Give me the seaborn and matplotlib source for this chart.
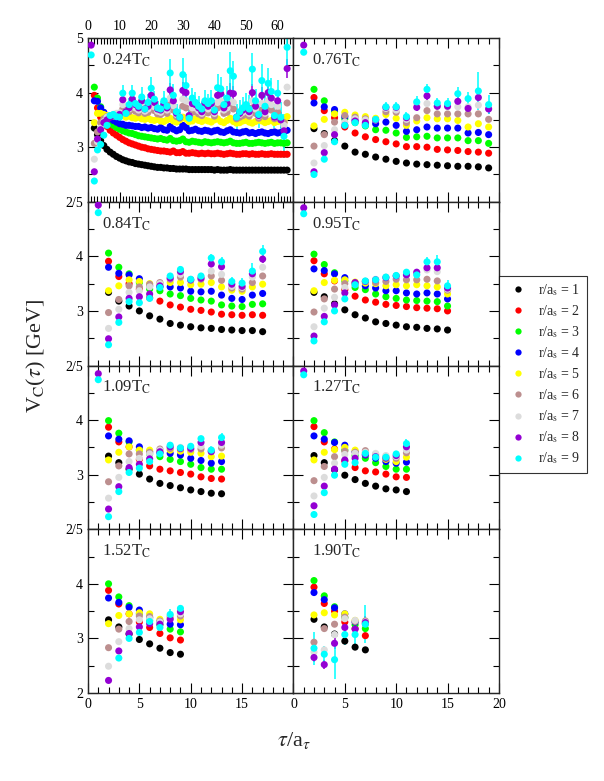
import matplotlib.pyplot as plt
import seaborn as sns
import pandas as pd
import numpy as np
from matplotlib.ticker import MultipleLocator
from matplotlib.lines import Line2D

nan = np.nan

# r/a_s = 1..9 , cores iguais ao original
r_values = [1, 2, 3, 4, 5, 6, 7, 8, 9]
colors = ['#000000', '#ff0000', '#00ff00', '#0000ff', '#ffff00',
          '#bc8f8f', '#dcdcdc', '#9400d3', '#00ffff']
r_names = [f'r{r}' for r in r_values]

# ============================================
# DADOS: V_C(tau) por temperatura, tau = 1..N
# ============================================
v024 = [
    [nan, 3.35, 3.23, 3.12, 3.03, 2.96, 2.91, 2.87, 2.83, 2.80,
     2.77, 2.75, 2.73, 2.72, 2.70, 2.69, 2.68, 2.67, 2.66, 2.65,
     2.64, 2.63, 2.63, 2.62, 2.62, 2.61, 2.61, 2.60, 2.60, 2.60,
     2.60, 2.59, 2.59, 2.59, 2.59, 2.59, 2.59, 2.59, 2.59, 2.58,
     2.59, 2.58, 2.58, 2.58, 2.59, 2.58, 2.58, 2.58, 2.58, 2.58,
     2.58, 2.58, 2.58, 2.58, 2.58, 2.58, 2.58, 2.58, 2.58, 2.58,
     2.58, 2.58, 2.58],
    [nan, 3.95, 3.72, 3.55, 3.45, 3.38, 3.31, 3.26, 3.22, 3.18,
     3.14, 3.11, 3.08, 3.06, 3.04, 3.02, 3.00, 2.99, 2.97, 2.96,
     2.95, 2.94, 2.93, 2.93, 2.92, 2.91, 2.93, 2.90, 2.90, 2.92,
     2.89, 2.89, 2.90, 2.89, 2.88, 2.89, 2.88, 2.89, 2.88, 2.88,
     2.89, 2.88, 2.87, 2.88, 2.89, 2.88, 2.87, 2.87, 2.88, 2.88,
     2.87, 2.88, 2.87, 2.87, 2.88, 2.87, 2.87, 2.88, 2.87, 2.87,
     2.87, 2.87, 2.87],
    [nan, 4.10, 3.90, 3.74, 3.62, 3.52, 3.45, 3.40, 3.36, 3.33,
     3.30, 3.28, 3.26, 3.25, 3.23, 3.21, 3.20, 3.19, 3.18, 3.17,
     3.16, 3.15, 3.16, 3.14, 3.13, 3.16, 3.12, 3.11, 3.12, 3.15,
     3.10, 3.09, 3.11, 3.10, 3.09, 3.08, 3.10, 3.09, 3.08, 3.09,
     3.10, 3.09, 3.08, 3.09, 3.11, 3.08, 3.07, 3.07, 3.08, 3.09,
     3.07, 3.07, 3.08, 3.09, 3.08, 3.07, 3.08, 3.09, 3.07, 3.08,
     3.08, 3.07, 3.08],
    [nan, 3.85, 3.84, 3.72, 3.64, 3.58, 3.53, 3.49, 3.46, 3.43,
     3.42, 3.40, 3.40, 3.39, 3.38, 3.38, 3.36, 3.37, 3.35, 3.36,
     3.34, 3.33, 3.36, 3.32, 3.31, 3.38, 3.33, 3.30, 3.32, 3.40,
     3.36, 3.30, 3.31, 3.33, 3.30, 3.29, 3.31, 3.30, 3.28, 3.30,
     3.31, 3.28, 3.27, 3.30, 3.32, 3.28, 3.27, 3.26, 3.28, 3.29,
     3.26, 3.27, 3.25, 3.27, 3.28, 3.26, 3.25, 3.27, 3.28, 3.26,
     3.27, 3.28, 3.31],
    [nan, 3.45, 3.62, 3.62, 3.60, 3.58, 3.58, 3.57, 3.57, 3.56,
     3.58, 3.55, 3.57, 3.54, 3.53, 3.55, 3.52, 3.51, 3.53, 3.50,
     3.49, 3.51, 3.48, 3.47, 3.50, 3.53, 3.48, 3.46, 3.50, 3.55,
     3.52, 3.47, 3.48, 3.52, 3.49, 3.47, 3.50, 3.48, 3.46, 3.50,
     3.52, 3.47, 3.45, 3.49, 3.53, 3.47, 3.44, 3.45, 3.48, 3.49,
     3.46, 3.44, 3.47, 3.50, 3.48, 3.45, 3.47, 3.49, 3.45, 3.47,
     3.48, 3.46, 3.56],
    [nan, 3.07, 3.28, 3.45, 3.52, 3.56, 3.58, 3.58, 3.60, 3.60,
     3.70, 3.62, 3.65, 3.70, 3.66, 3.63, 3.68, 3.62, 3.64, 3.72,
     3.67, 3.61, 3.60, 3.65, 3.62, 3.78, 3.68, 3.56, 3.53, 3.75,
     3.72, 3.54, 3.64, 3.65, 3.61, 3.58, 3.64, 3.63, 3.65, 3.57,
     3.72, 3.74, 3.62, 3.64, 3.74, 3.70, 3.52, 3.55, 3.58, 3.61,
     3.57, 3.72, 3.62, 3.53, 3.68, 3.56, 3.72, 3.68, 3.52, 3.64,
     3.50, 3.45, 3.81],
    [nan, 2.78, 3.10, 3.35, 3.47, 3.55, 3.58, 3.60, 3.62, 3.63,
     3.78, 3.65, 3.70, 3.78, 3.72, 3.68, 3.75, 3.66, 3.70, 3.82,
     3.74, 3.66, 3.64, 3.72, 3.68, 3.90, 3.76, 3.60, 3.56, 3.88,
     3.85, 3.58, 3.72, 3.72, 3.67, 3.62, 3.72, 3.70, 3.73, 3.62,
     3.82, 3.85, 3.68, 3.72, 3.85, 3.82, 3.55, 3.60, 3.64, 3.68,
     3.62, 3.85, 3.70, 3.57, 3.80, 3.62, 3.85, 3.78, 3.55, 3.75,
     3.50, 3.40, 4.10],
    [4.87, 2.55, 3.15, 3.32, 3.45, 3.50, 3.55, 3.58, 3.56, 3.60,
     3.87, 3.65, 3.72, 3.88, 3.78, 3.72, 3.85, 3.70, 3.75, 3.95,
     3.82, 3.70, 3.68, 3.78, 3.72, 4.05, 3.85, 3.62, 3.55, 4.04,
     4.00, 3.58, 3.80, 3.78, 3.72, 3.65, 3.80, 3.75, 3.80, 3.65,
     3.95, 3.98, 3.72, 3.80, 3.99, 3.98, 3.55, 3.62, 3.68, 3.72,
     3.65, 4.00, 3.75, 3.58, 3.95, 3.65, 4.00, 3.90, 3.55, 3.85,
     3.50, 3.30, 4.44],
    [4.69, 2.38, 2.95, 3.05, 3.22, 3.40, 3.58, 3.60, 3.56, 3.55,
     3.99, 3.62, 3.78, 3.99, 3.80, 3.75, 3.92, 3.70, 3.82, 4.08,
     3.88, 3.72, 3.70, 3.85, 3.75, 4.36, 3.95, 3.65, 3.55, 4.33,
     4.13, 3.53, 3.90, 3.82, 3.75, 3.70, 3.85, 3.80, 3.85, 3.68,
     4.09, 4.07, 3.78, 3.90, 4.40, 4.30, 3.55, 3.65, 3.72, 3.78,
     3.70, 4.43, 3.85, 3.60, 4.22, 3.75, 4.17, 4.02, 3.58, 3.99,
     3.55, 3.20, 4.83],
]
# barras de erro para r/a_s = 8 e 9
e024 = [
    [0.01, 0.01, 0.02, 0.02, 0.03, 0.03, 0.04, 0.04, 0.05, 0.05,
     0.08, 0.06, 0.07, 0.08, 0.07, 0.07, 0.10, 0.07, 0.08, 0.10,
     0.08, 0.07, 0.08, 0.10, 0.08, 0.12, 0.10, 0.08, 0.10, 0.15,
     0.12, 0.10, 0.10, 0.10, 0.10, 0.08, 0.10, 0.10, 0.10, 0.10,
     0.12, 0.12, 0.10, 0.12, 0.18, 0.15, 0.12, 0.12, 0.10, 0.12,
     0.12, 0.15, 0.12, 0.12, 0.15, 0.12, 0.15, 0.12, 0.12, 0.12,
     0.15, 0.20, 0.18],
    [0.02, 0.02, 0.03, 0.03, 0.04, 0.05, 0.05, 0.06, 0.07, 0.08,
     0.15, 0.10, 0.12, 0.15, 0.12, 0.12, 0.18, 0.12, 0.15, 0.20,
     0.15, 0.12, 0.15, 0.18, 0.15, 0.25, 0.20, 0.15, 0.18, 0.30,
     0.22, 0.20, 0.18, 0.20, 0.18, 0.15, 0.20, 0.18, 0.20, 0.18,
     0.25, 0.22, 0.20, 0.22, 0.35, 0.28, 0.25, 0.22, 0.20, 0.22,
     0.25, 0.30, 0.22, 0.25, 0.30, 0.25, 0.28, 0.25, 0.22, 0.25,
     0.28, 0.40, 0.35],
]

v076 = [
    [nan, 3.34, 3.25, 3.12, 3.02, 2.91, 2.87, 2.82, 2.78, 2.74, 2.71, 2.69, 2.68, 2.67, 2.66, 2.65, 2.65, 2.64, 2.62],
    [nan, 3.91, 3.67, 3.54, 3.37, 3.26, 3.19, 3.14, 3.10, 3.06, 3.01, 3.01, 3.00, 2.96, 2.95, 2.94, 2.92, 2.91, 2.89],
    [nan, 4.06, 3.85, 3.66, 3.52, 3.45, 3.39, 3.32, 3.31, 3.26, 3.18, 3.19, 3.20, 3.17, 3.17, 3.17, 3.12, 3.12, 3.07],
    [nan, 3.81, 3.74, 3.69, 3.56, 3.50, 3.42, 3.43, 3.46, 3.40, 3.29, 3.32, 3.37, 3.35, 3.35, 3.35, 3.26, 3.27, 3.23],
    [nan, 3.39, 3.51, 3.61, 3.64, 3.59, 3.56, 3.53, 3.60, 3.53, 3.40, 3.48, 3.54, 3.52, 3.52, 3.49, 3.37, 3.43, 3.37],
    [nan, 3.02, 3.23, 3.46, 3.58, 3.55, 3.52, 3.50, 3.65, 3.64, 3.45, 3.54, 3.67, 3.61, 3.61, 3.61, 3.61, 3.61, 3.51],
    [nan, 2.71, 3.03, 3.32, 3.46, 3.52, 3.50, 3.50, 3.71, 3.68, 3.51, 3.80, 3.80, 3.75, 3.74, 3.74, 3.74, 3.77, 3.71],
    [4.87, 2.55, 2.90, 3.23, 3.40, 3.48, 3.45, 3.50, 3.73, 3.73, 3.54, 3.73, 3.94, 3.75, 3.75, 3.84, 3.71, 3.91, 3.70],
    [4.74, 2.50, 2.78, 3.10, 3.40, 3.45, 3.40, 3.51, 3.74, 3.74, 3.56, 3.83, 4.06, 3.81, 3.80, 3.98, 3.89, 4.03, 3.78],
]
e076 = [
    [0.01, 0.01, 0.01, 0.01, 0.02, 0.02, 0.02, 0.03, 0.05, 0.05, 0.05, 0.06, 0.07, 0.07, 0.07, 0.08, 0.08, 0.12, 0.10],
    [0.01, 0.01, 0.01, 0.02, 0.02, 0.03, 0.03, 0.05, 0.08, 0.08, 0.08, 0.10, 0.10, 0.10, 0.10, 0.12, 0.12, 0.35, 0.18],
]

v084 = [
    [nan, 3.34, 3.18, 3.09, 3.00, 2.91, 2.85, 2.77, 2.74, 2.71, 2.69, 2.68, 2.66, 2.65, 2.64, 2.64, 2.62],
    [nan, 3.91, 3.63, 3.50, 3.40, 3.24, 3.18, 3.11, 3.07, 3.03, 3.01, 2.98, 2.94, 2.93, 2.92, 2.93, 2.92],
    [nan, 4.06, 3.80, 3.68, 3.52, 3.40, 3.37, 3.31, 3.28, 3.23, 3.20, 3.18, 3.11, 3.09, 3.08, 3.12, 3.13],
    [nan, 3.80, 3.69, 3.66, 3.59, 3.46, 3.44, 3.44, 3.42, 3.36, 3.35, 3.36, 3.29, 3.23, 3.21, 3.29, 3.32],
    [nan, 3.37, 3.46, 3.57, 3.54, 3.50, 3.50, 3.52, 3.52, 3.48, 3.49, 3.52, 3.44, 3.38, 3.36, 3.44, 3.49],
    [nan, 2.97, 3.21, 3.46, 3.44, 3.49, 3.52, 3.58, 3.62, 3.56, 3.58, 3.64, 3.56, 3.42, 3.40, 3.52, 3.64],
    [nan, 2.68, 3.03, 3.34, 3.37, 3.44, 3.50, 3.60, 3.67, 3.58, 3.62, 3.73, 3.67, 3.45, 3.43, 3.62, 3.80],
    [4.94, 2.49, 2.89, 3.23, 3.26, 3.31, 3.46, 3.60, 3.72, 3.57, 3.60, 3.86, 3.81, 3.49, 3.45, 3.68, 3.95],
    [4.80, 2.38, 2.79, 3.17, 3.15, 3.23, 3.43, 3.64, 3.76, 3.58, 3.64, 3.97, 3.90, 3.54, 3.51, 3.73, 4.09],
]
e084 = [
    [0.01, 0.01, 0.01, 0.01, 0.01, 0.02, 0.02, 0.03, 0.04, 0.03, 0.03, 0.05, 0.06, 0.05, 0.06, 0.08, 0.08],
    [0.01, 0.01, 0.01, 0.01, 0.02, 0.02, 0.03, 0.05, 0.07, 0.05, 0.05, 0.07, 0.08, 0.08, 0.10, 0.15, 0.12],
]

v095 = [
    [nan, 3.34, 3.26, 3.13, 3.02, 2.93, 2.87, 2.80, 2.77, 2.74, 2.71, 2.70, 2.68, 2.67, 2.65],
    [nan, 3.92, 3.68, 3.55, 3.39, 3.27, 3.20, 3.16, 3.12, 3.10, 3.08, 3.06, 3.05, 3.04, 3.00],
    [nan, 4.04, 3.85, 3.70, 3.55, 3.43, 3.39, 3.31, 3.26, 3.23, 3.20, 3.19, 3.18, 3.17, 3.09],
    [nan, 3.77, 3.74, 3.68, 3.61, 3.51, 3.46, 3.42, 3.37, 3.37, 3.33, 3.31, 3.33, 3.31, 3.22],
    [nan, 3.37, 3.52, 3.56, 3.57, 3.53, 3.51, 3.50, 3.46, 3.48, 3.46, 3.48, 3.46, 3.44, 3.31],
    [nan, 2.98, 3.22, 3.40, 3.50, 3.48, 3.54, 3.52, 3.54, 3.58, 3.57, 3.57, 3.58, 3.55, 3.38],
    [nan, 2.71, 3.05, 3.25, 3.43, 3.50, 3.54, 3.58, 3.62, 3.64, 3.66, 3.68, 3.75, 3.72, 3.40],
    [4.89, 2.54, 2.90, 3.11, 3.33, 3.52, 3.54, 3.57, 3.61, 3.64, 3.66, 3.71, 3.79, 3.79, 3.42],
    [4.78, 2.45, 2.80, 3.00, 3.22, 3.48, 3.55, 3.57, 3.62, 3.65, 3.71, 3.66, 3.90, 3.90, 3.46],
]
e095 = [
    [0.01, 0.01, 0.01, 0.01, 0.01, 0.02, 0.02, 0.02, 0.03, 0.03, 0.04, 0.04, 0.06, 0.08, 0.07],
    [0.01, 0.01, 0.01, 0.01, 0.02, 0.02, 0.03, 0.03, 0.04, 0.04, 0.05, 0.05, 0.08, 0.12, 0.10],
]

v109 = [
    [nan, 3.34, 3.22, 3.10, 3.01, 2.92, 2.84, 2.80, 2.76, 2.72, 2.69, 2.66, 2.65],
    [nan, 3.87, 3.60, 3.51, 3.28, 3.16, 3.10, 3.07, 3.04, 3.01, 2.96, 2.93, 2.92],
    [nan, 3.99, 3.76, 3.60, 3.45, 3.38, 3.33, 3.28, 3.24, 3.19, 3.13, 3.10, 3.10],
    [nan, 3.71, 3.65, 3.62, 3.51, 3.42, 3.40, 3.39, 3.36, 3.30, 3.26, 3.21, 3.24],
    [nan, 3.27, 3.41, 3.51, 3.45, 3.45, 3.44, 3.45, 3.43, 3.41, 3.39, 3.33, 3.34],
    [nan, 2.87, 3.16, 3.38, 3.38, 3.41, 3.47, 3.48, 3.47, 3.46, 3.47, 3.43, 3.49],
    [nan, 2.57, 2.95, 3.24, 3.30, 3.38, 3.45, 3.51, 3.50, 3.48, 3.52, 3.45, 3.54],
    [4.85, 2.37, 2.78, 3.13, 3.19, 3.29, 3.42, 3.51, 3.48, 3.48, 3.59, 3.42, 3.59],
    [4.74, 2.23, 2.69, 3.04, 3.12, 3.24, 3.38, 3.54, 3.49, 3.52, 3.66, 3.45, 3.68],
]
e109 = [
    [0.01, 0.01, 0.01, 0.01, 0.01, 0.02, 0.02, 0.02, 0.02, 0.03, 0.04, 0.05, 0.06],
    [0.01, 0.01, 0.01, 0.01, 0.02, 0.02, 0.02, 0.03, 0.03, 0.04, 0.05, 0.07, 0.08],
]

v127 = [
    [nan, 3.35, 3.22, 3.09, 2.99, 2.91, 2.84, 2.79, 2.74, 2.72, 2.69],
    [nan, 3.88, 3.60, 3.47, 3.25, 3.13, 3.07, 3.05, 3.01, 2.96, 2.95],
    [nan, 3.99, 3.77, 3.60, 3.45, 3.35, 3.30, 3.22, 3.15, 3.10, 3.10],
    [nan, 3.71, 3.65, 3.59, 3.54, 3.42, 3.36, 3.30, 3.24, 3.21, 3.23],
    [nan, 3.27, 3.41, 3.46, 3.50, 3.45, 3.40, 3.35, 3.28, 3.24, 3.32],
    [nan, 2.89, 3.15, 3.33, 3.43, 3.41, 3.44, 3.37, 3.33, 3.30, 3.40],
    [nan, 2.61, 2.95, 3.21, 3.37, 3.39, 3.41, 3.39, 3.35, 3.33, 3.45],
    [4.90, 2.43, 2.79, 3.10, 3.27, 3.30, 3.37, 3.33, 3.30, 3.35, 3.51],
    [4.83, 2.27, 2.67, 2.99, 3.19, 3.22, 3.39, 3.32, 3.32, 3.38, 3.57],
]
e127 = [
    [0.01, 0.01, 0.01, 0.01, 0.01, 0.02, 0.02, 0.02, 0.02, 0.04, 0.05],
    [0.01, 0.01, 0.01, 0.01, 0.02, 0.02, 0.02, 0.03, 0.03, 0.06, 0.08],
]

v152 = [
    [nan, 3.34, 3.21, 3.08, 2.98, 2.90, 2.82, 2.74, 2.71],
    [nan, 3.88, 3.63, 3.45, 3.30, 3.20, 3.09, 3.01, 2.97],
    [nan, 4.00, 3.76, 3.60, 3.45, 3.33, 3.25, 3.17, 3.12],
    [nan, 3.74, 3.66, 3.57, 3.52, 3.38, 3.31, 3.26, 3.25],
    [nan, 3.27, 3.42, 3.45, 3.47, 3.45, 3.35, 3.37, 3.34],
    [nan, 2.83, 3.17, 3.31, 3.41, 3.40, 3.32, 3.40, 3.41],
    [nan, 2.49, 2.94, 3.18, 3.34, 3.36, 3.30, 3.41, 3.45],
    [nan, 2.23, 2.77, 3.09, 3.21, 3.27, 3.26, 3.35, 3.49],
    [nan, nan, 2.64, 3.00, 3.11, 3.31, 3.20, 3.44, 3.55],
]
e152 = [
    [0.0, 0.02, 0.02, 0.02, 0.02, 0.03, 0.03, 0.06, 0.05],
    [0.0, 0.0, 0.02, 0.02, 0.03, 0.03, 0.04, 0.10, 0.07],
]

v190 = [
    [nan, 3.35, 3.21, 3.08, 2.95, 2.84, 2.79],
    [nan, 3.94, 3.64, 3.50, 3.30, 3.18, 3.05],
    [nan, 4.06, 3.78, 3.58, 3.38, 3.25, 3.18],
    [nan, 3.84, 3.71, 3.56, 3.45, 3.30, 3.27],
    [nan, 3.43, 3.47, 3.43, 3.45, 3.33, 3.30],
    [nan, 2.93, 3.18, 3.26, 3.39, 3.31, 3.32],
    [nan, 2.75, 2.79, 3.07, 3.36, 3.33, 3.30],
    [nan, 2.65, 2.52, 2.91, 3.20, 3.17, 3.29],
    [nan, 2.82, 2.71, 2.61, 3.07, 3.07, 3.26],
]
e190 = [
    [0.0, 0.08, 0.08, 0.10, 0.10, 0.10, 0.12],
    [0.0, 0.30, 0.15, 0.35, 0.20, 0.20, 0.35],
]

panels = [('0.24', v024, e024), ('0.76', v076, e076),
          ('0.84', v084, e084), ('0.95', v095, e095),
          ('1.09', v109, e109), ('1.27', v127, e127),
          ('1.52', v152, e152), ('1.90', v190, e190)]

# ============================================
# ESTILO
# ============================================
sns.set_style('ticks')
plt.rcParams['font.family'] = ['Liberation Serif', 'DejaVu Serif']
plt.rcParams['mathtext.fontset'] = 'stix'
plt.rcParams['axes.linewidth'] = 1.0

fig, axes = plt.subplots(4, 2, figsize=(6.04, 7.81), dpi=100)
fig.subplots_adjust(left=0.1457, right=0.826, top=0.9513, bottom=0.1127,
                    hspace=0, wspace=0)

palette = dict(zip(r_names, colors))

for i, (temp, vals, errs) in enumerate(panels):
    row, col = divmod(i, 2)
    ax = axes[row, col]
    n = len(vals[0])
    tau = np.arange(1, n + 1)
    df = pd.DataFrame({'tau': np.tile(tau, len(r_values)),
                       'V': np.concatenate(vals),
                       'r': np.repeat(r_names, n)})

    # barras de erro (r/a_s = 8, 9)
    for k, e in zip([7, 8], errs):
        ax.errorbar(tau, vals[k], yerr=e, fmt='none', ecolor=colors[k],
                    elinewidth=1.1, capsize=0, zorder=2)
    sns.scatterplot(data=df, x='tau', y='V', hue='r', hue_order=r_names,
                    palette=palette, s=26, linewidth=0, legend=False,
                    ax=ax, zorder=3)

    ax.set_xlabel('')
    ax.set_ylabel('')
    ax.set_ylim(2, 5)
    ax.yaxis.set_major_locator(MultipleLocator(1))
    ax.yaxis.set_minor_locator(MultipleLocator(0.5))
    ax.tick_params(which='both', direction='in', top=True, right=True,
                   labelsize=10, colors='black', width=0.8)
    ax.tick_params(which='major', length=7)
    ax.tick_params(which='minor', length=4)

    if i == 0:
        ax.set_xlim(0, 65)
        ax.xaxis.set_major_locator(MultipleLocator(10))
        ax.xaxis.set_minor_locator(MultipleLocator(1))
        ax.tick_params(axis='x', labeltop=True, labelbottom=False)
    else:
        ax.set_xlim(0, 20)
        ax.xaxis.set_major_locator(MultipleLocator(5))
        ax.xaxis.set_minor_locator(MultipleLocator(1))
        if row < 3:
            ax.tick_params(axis='x', labelbottom=False)

    if col == 0:
        ax.set_yticks([2, 3, 4, 5])
        if row == 0:
            ax.set_yticklabels(['2/5', '3', '4', '5'])
        elif row < 3:
            ax.set_yticklabels(['2/5', '3', '4', ''])
        else:
            ax.set_yticklabels(['2', '3', '4', ''])
    else:
        ax.tick_params(axis='y', labelleft=False)

    if row == 3:
        ax.set_xticks([0, 5, 10, 15, 20])
        if col == 0:
            ax.set_xticklabels(['0', '5', '10', '15', ''])

    ax.text(0.07 if col == 0 else 0.09, 0.865, temp + r'T$_\mathrm{C}$',
            transform=ax.transAxes, ha='left', va='center', fontsize=12)

fig.text(0.061, 0.545, r'V$_\mathrm{C}$($\tau$) [GeV]', rotation=90,
         ha='center', va='center', fontsize=16)
fig.text(0.487, 0.052, r'$\tau$/a$_\tau$', ha='center', va='center',
         fontsize=16)

handles = [Line2D([], [], linestyle='none', marker='o', markersize=4.5,
                  markerfacecolor=c, markeredgewidth=0) for c in colors]
labels = [r'r/a$_\mathrm{s}$ = ' + str(r) for r in r_values]
leg = fig.legend(handles, labels, loc='upper left',
                 bbox_to_anchor=(0.826, 0.647), borderaxespad=0,
                 fontsize=10, frameon=True, fancybox=False,
                 labelspacing=0.38, handletextpad=0.6, handlelength=1.8,
                 borderpad=0.45)
leg.get_frame().set_edgecolor('black')
leg.get_frame().set_linewidth(0.8)

plt.savefig('out.png', dpi=100)
